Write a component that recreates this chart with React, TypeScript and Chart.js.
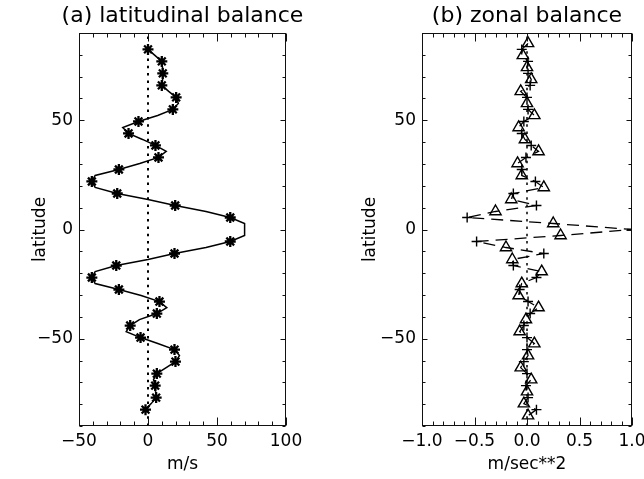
import React, { useEffect, useRef } from "react";
import { Chart, registerables } from "chart.js";
Chart.register(...registerables);

// Latitudes (degrees) of the plotted points, north to south
const LATITUDES = [
  85.25, 82.5, 79.75, 77, 74.25, 71.5, 68.75, 66, 63.25, 60.5, 57.75, 55, 52.25, 49.5, 46.75, 44,
  41.25, 38.5, 35.75, 33, 30.25, 27.5, 24.75, 22, 19.25, 16.5, 13.75, 11, 8.25, 5.5, 2.75, 0,
  -2.75, -5.5, -8.25, -11, -13.75, -16.5, -19.25, -22, -24.75, -27.5, -30.25, -33, -35.75, -38.5,
  -41.25, -44, -46.75, -49.5, -52.25, -55, -57.75, -60.5, -63.25, -66, -68.75, -71.5, -74.25, -77,
  -79.75, -82.5, -85.25,
];

// (a) latitudinal balance, m/s, for latitudes 82.5 .. -82.5
const LAT_BALANCE = [
  0, 5, 10, 10.5, 10.7, 10.5, 10, 15, 20.4, 22,
  18, 7, -6.9, -18.3, -14.1, -4, 5.4, 13.2, 7.6, -6,
  -21.1, -38.3, -40.7, -38.3, -22.3, 0, 19.7, 42, 59.6, 70,
  70,
  70, 59.6, 42, 19.2, 0, -23, -38.3, -40.7, -38.3, -21.1,
  -5, 8.3, 13.6, 6.4, -6.2, -12.9, -15.8, -5.4, 7.1, 19.2,
  22.8, 19.9, 13.2, 6.4, 4, 5.2, 5.5, 5.9, 2.3, -1.8,
];

// (b) zonal balance, m/sec**2, for latitudes 85.25 .. -85.25
const ZONAL_BALANCE = [
  0.01, -0.05, -0.04, 0.01, 0.0, 0.01, 0.04, 0.03, -0.06, 0.0,
  0.0, 0.01, 0.07, -0.03, -0.08, -0.05, -0.02, 0.04, 0.11, -0.01,
  -0.09, -0.05, -0.05, 0.08, 0.16, -0.13, -0.15, 0.09, -0.3, -0.57,
  0.25, 1.0, 0.32,
  -0.48, -0.2, 0.16, -0.14, -0.13, 0.14, 0.09, -0.05, -0.07, -0.08,
  0.01, 0.11, 0.03, -0.01, -0.03, -0.07, 0.0, 0.07, 0.0, 0.01,
  -0.03, -0.06, 0.0, 0.04, -0.01, 0.0, 0.01, -0.03, 0.09, 0.01,
];

const LAT_TICKS = [-50, 0, 50];
const A_X_TICKS = [-50, 0, 50, 100];
const B_X_TICKS = [-1, -0.5, 0, 0.5, 1];
const ZERO_LINE = [{ x: 0, y: -90 }, { x: 0, y: 90 }];

const FONT = "'DejaVu Sans', sans-serif";
const tickFont = { family: FONT, size: 17 };
const titleFont = { family: FONT, size: 22 };

const minus = (s: string) => s.replace("-", "\u2212");

function framePlugin(xMinor: number, yMinor: number) {
  return {
    id: "frameTicks",
    afterLayout(chart: any) {
      // let the title overhang the plot area instead of being squeezed into it
      const t = chart.titleBlock;
      if (t) {
        t.left -= 60;
        t.right += 60;
        t.width += 120;
      }
    },
    afterDraw(chart: any) {
      const { ctx, chartArea: a, scales } = chart;
      const x = scales.x;
      const y = scales.y;
      ctx.save();
      ctx.strokeStyle = "#111";
      ctx.lineWidth = 1;
      const L = Math.round(a.left) + 0.5;
      const R = Math.round(a.right) - 0.5;
      const T = Math.round(a.top) + 0.5;
      const B = Math.round(a.bottom) - 0.5;
      ctx.strokeRect(L, T, R - L, B - T);
      ctx.beginPath();
      const xmaj = x.ticks.map((t: any) => t.value);
      const i0 = Math.round(x.min / xMinor);
      const i1 = Math.round(x.max / xMinor);
      for (let i = i0; i <= i1; i++) {
        const v = i * xMinor;
        const isMaj = xmaj.some((m: number) => Math.abs(m - v) < 1e-9);
        const len = isMaj ? 8 : 4;
        const px = Math.round(x.getPixelForValue(v)) + 0.5;
        ctx.moveTo(px, B);
        ctx.lineTo(px, B - len);
        ctx.moveTo(px, T);
        ctx.lineTo(px, T + len);
      }
      const ymaj = y.ticks.map((t: any) => t.value);
      const j0 = Math.round(y.min / yMinor);
      const j1 = Math.round(y.max / yMinor);
      for (let j = j0; j <= j1; j++) {
        const v = j * yMinor;
        const isMaj = ymaj.some((m: number) => Math.abs(m - v) < 1e-9);
        const len = isMaj ? 5 : 3;
        const py = Math.round(y.getPixelForValue(v)) + 0.5;
        ctx.moveTo(L, py);
        ctx.lineTo(L + len, py);
        ctx.moveTo(R, py);
        ctx.lineTo(R - len, py);
      }
      ctx.stroke();
      ctx.restore();
    },
  };
}

function makeConfig(opts: {
  title: string;
  xTitle: string;
  xMin: number;
  xMax: number;
  xTicks: number[];
  xFmt: (v: number) => string;
  yWidth: number;
  yTitlePad: number;
  rightPad: number;
  datasets: any[];
  xMinor: number;
}) {
  return {
    type: "scatter" as const,
    data: { datasets: opts.datasets },
    plugins: [framePlugin(opts.xMinor, 10)],
    options: {
      responsive: false,
      animation: false as const,
      layout: { padding: { left: 0, right: opts.rightPad, top: 0, bottom: 0 } },
      plugins: {
        legend: { display: false },
        tooltip: { enabled: false },
        title: {
          display: true,
          text: opts.title,
          color: "#000",
          font: { ...titleFont, weight: "normal" as const },
          padding: { top: 3, bottom: 3.6 },
          fullSize: false,
        },
      },
      scales: {
        x: {
          type: "linear" as const,
          min: opts.xMin,
          max: opts.xMax,
          afterBuildTicks: (s: any) => {
            s.ticks = opts.xTicks.map((v) => ({ value: v }));
          },
          afterFit: (s: any) => {
            s.height = 53;
            s.paddingLeft = 0;
            s.paddingRight = 0;
          },
          grid: { display: false, drawTicks: false },
          border: { display: false },
          ticks: {
            padding: 5,
            color: "#000",
            font: tickFont,
            maxRotation: 0,
            autoSkip: false,
            callback: (v: any) => opts.xFmt(Number(v)),
          },
          title: {
            display: true,
            text: opts.xTitle,
            color: "#000",
            font: tickFont,
            padding: { top: 0, bottom: 4 },
          },
        },
        y: {
          type: "linear" as const,
          min: -90,
          max: 90,
          afterBuildTicks: (s: any) => {
            s.ticks = LAT_TICKS.map((v) => ({ value: v }));
          },
          afterFit: (s: any) => {
            s.width = opts.yWidth;
            s.paddingTop = 0;
            s.paddingBottom = 0;
          },
          grid: { display: false, drawTicks: false },
          border: { display: false },
          ticks: {
            padding: 6,
            color: "#000",
            font: tickFont,
            autoSkip: false,
            callback: (v: any) => minus(String(v)),
          },
          title: {
            display: true,
            text: "latitude",
            color: "#000",
            font: tickFont,
            padding: { top: opts.yTitlePad, bottom: 0 },
          },
        },
      },
    },
  };
}

export default function App() {
  const refA = useRef<HTMLCanvasElement>(null);
  const refB = useRef<HTMLCanvasElement>(null);

  useEffect(() => {
    const latsA = LATITUDES.slice(1, LATITUDES.length - 1);
    const chartA = new Chart(
      refA.current!,
      makeConfig({
        title: "(a) latitudinal balance",
        xTitle: "m/s",
        xMin: -50,
        xMax: 100,
        xTicks: A_X_TICKS,
        xFmt: (v) => minus(String(v)),
        yWidth: 79,
        yTitlePad: 30,
        rightPad: 36,
        xMinor: 10,
        datasets: [
          {
            data: ZERO_LINE,
            showLine: true,
            borderColor: "#000",
            borderWidth: 2,
            borderDash: [2.5, 4.8],
            pointRadius: 0,
          },
          {
            data: latsA.map((lat, i) => ({ x: LAT_BALANCE[i], y: lat })),
            showLine: true,
            borderColor: "#000",
            borderWidth: 1.5,
            pointStyle: "star",
            pointRadius: (c: any) => (c.dataIndex % 2 === 0 && latsA[c.dataIndex] !== 0 ? 5.5 : 0),
            pointBorderWidth: 2.3,
            pointBorderColor: "#000",
            pointBackgroundColor: "#000",
          },
        ],
      }) as any
    );

    const chartB = new Chart(
      refB.current!,
      makeConfig({
        title: "(b) zonal balance",
        xTitle: "m/sec**2",
        xMin: -1,
        xMax: 1,
        xTicks: B_X_TICKS,
        xFmt: (v) => minus(v.toFixed(1)),
        yWidth: 100,
        yTitlePad: 38,
        rightPad: 12,
        xMinor: 0.1,
        datasets: [
          {
            data: ZERO_LINE,
            showLine: true,
            borderColor: "#000",
            borderWidth: 1.5,
            borderDash: [2.5, 4.8],
            pointRadius: 0,
          },
          {
            data: LATITUDES.map((lat, i) => ({ x: ZONAL_BALANCE[i], y: lat })),
            showLine: true,
            borderColor: "#000",
            borderWidth: 1.3,
            borderDash: [12, 7],
            pointStyle: (c: any) => (c.dataIndex % 2 === 0 ? "triangle" : "cross"),
            pointRadius: (c: any) => (c.dataIndex % 2 === 0 ? 6.5 : 5),
            pointBorderWidth: 1.4,
            pointBorderColor: "#000",
            pointBackgroundColor: "rgba(0,0,0,0)",
          },
        ],
      }) as any
    );

    return () => {
      chartA.destroy();
      chartB.destroy();
    };
  }, []);

  return (
    <div style={{ position: "absolute", left: 0, top: 0, width: 644, height: 479, background: "#fff" }}>
      <canvas ref={refA} width={322} height={479} style={{ position: "absolute", left: 0, top: 0 }} />
      <canvas ref={refB} width={322} height={479} style={{ position: "absolute", left: 322, top: 0 }} />
    </div>
  );
}
